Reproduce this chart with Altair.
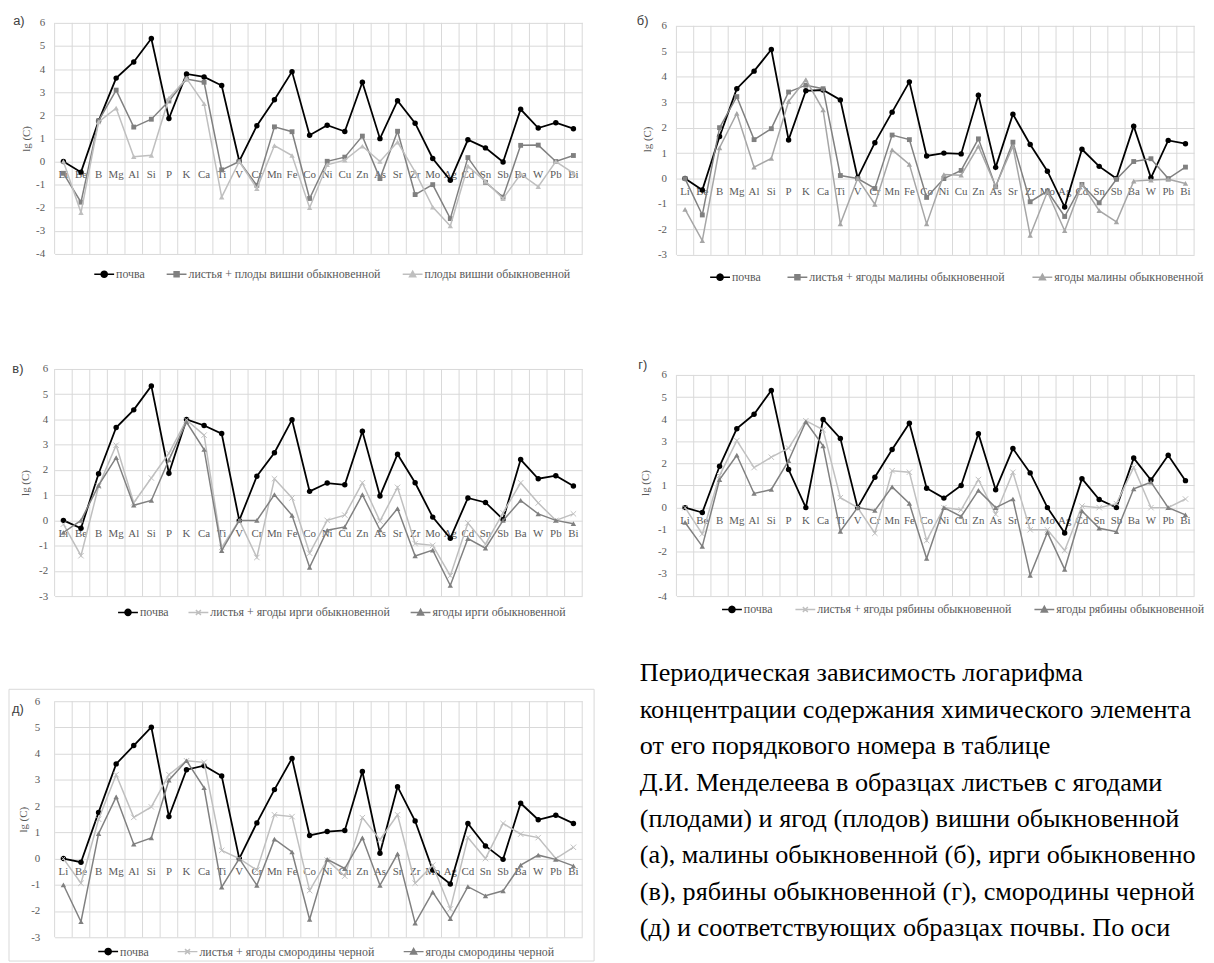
import math
import altair as alt
import pandas as pd

ELEMENTS = ["Li", "Be", "B", "Mg", "Al", "Si", "P", "K", "Ca", "Ti", "V", "Cr", "Mn", "Fe", "Co",
            "Ni", "Cu", "Zn", "As", "Sr", "Zr", "Mo", "Ag", "Cd", "Sn", "Sb", "Ba", "W", "Pb", "Bi"]

SOIL = "почва"

# а) вишня обыкновенная
A_NAMES = [SOIL, "листья + плоды вишни обыкновенной", "плоды вишни обыкновенной"]
A_SOIL = [0.00, -0.46, 1.75, 3.61, 4.31, 5.32, 1.86, 3.79, 3.66, 3.29, 0.02, 1.55, 2.67, 3.89, 1.14,
          1.57, 1.30, 3.43, 0.99, 2.63, 1.66, 0.13, -0.81, 0.94, 0.59, -0.02, 2.26, 1.45, 1.68, 1.42]
A_LEAVES = [-0.51, -1.76, 1.76, 3.09, 1.49, 1.83, 2.62, 3.57, 3.43, -0.36, 0.00, -1.03, 1.50, 1.29, -1.60,
            0.01, 0.19, 1.10, -0.74, 1.31, -1.43, -1.00, -2.47, 0.17, -0.90, -1.54, 0.70, 0.71, 0.00, 0.26]
A_FRUIT = [0.00, -2.21, 1.71, 2.31, 0.21, 0.27, 2.74, 3.60, 2.50, -1.54, 0.00, -1.17, 0.69, 0.26, -2.00,
           -0.14, 0.06, 0.66, 0.00, 0.84, -0.45, -1.97, -2.79, -0.20, -0.86, -1.61, -0.54, -1.09, 0.00, -0.50]

# б) малина обыкновенная
B_NAMES = [SOIL, "листья + ягоды малины обыкновенной", "ягоды малины обыкновенной"]
B_SOIL = [0.00, -0.45, 1.65, 3.53, 4.22, 5.07, 1.52, 3.45, 3.48, 3.09, 0.03, 1.41, 2.61, 3.80, 0.89,
          1.00, 0.97, 3.27, 0.44, 2.53, 1.34, 0.29, -1.12, 1.15, 0.48, 0.00, 2.06, 0.03, 1.50, 1.37]
B_LEAVES = [0.00, -1.43, 2.00, 3.22, 1.53, 1.96, 3.40, 3.67, 3.53, 0.12, 0.00, -0.39, 1.71, 1.53, -0.74,
            0.00, 0.32, 1.56, -0.32, 1.43, -0.91, -0.49, -1.49, -0.23, -0.95, -0.03, 0.67, 0.78, 0.00, 0.45]
B_BERRY = [-1.21, -2.44, 1.21, 2.56, 0.45, 0.79, 3.03, 3.89, 2.70, -1.78, 0.00, -1.01, 1.13, 0.56, -1.78,
           0.16, 0.13, 1.27, -0.30, 1.27, -2.23, -0.52, -2.05, -0.23, -1.26, -1.70, -0.10, -0.06, -0.03, -0.19]

# в) ирга обыкновенная
V_NAMES = [SOIL, "листья + ягоды ирги обыкновенной", "ягоды ирги обыкновенной"]
V_SOIL = [0.00, -0.31, 1.85, 3.68, 4.38, 5.33, 1.87, 4.00, 3.76, 3.44, 0.00, 1.75, 2.68, 3.99, 1.15,
          1.48, 1.41, 3.53, 0.97, 2.62, 1.49, 0.13, -0.71, 0.89, 0.71, 0.04, 2.41, 1.65, 1.77, 1.36]
V_LEAVES = [-0.15, -1.40, 1.35, 2.98, 0.70, 1.68, 2.66, 3.98, 3.38, -1.07, 0.00, -1.47, 1.65, 0.89, -1.30,
            0.00, 0.21, 1.49, -0.03, 1.31, -0.92, -0.99, -2.19, -0.10, -0.94, 0.30, 1.49, 0.69, 0.00, 0.26]
V_BERRY = [-0.48, 0.00, 1.39, 2.49, 0.60, 0.79, 2.40, 3.90, 2.81, -1.20, 0.00, 0.00, 1.02, 0.20, -1.86,
           -0.39, -0.26, 1.02, -0.38, 0.47, -1.41, -1.18, -2.58, -0.72, -1.10, 0.00, 0.79, 0.26, 0.00, -0.13]

# г) рябина обыкновенная
G_NAMES = [SOIL, "листья + ягоды рябины обыкновенной", "ягоды рябины обыкновенной"]
G_SOIL = [0.00, -0.22, 1.87, 3.57, 4.22, 5.30, 1.72, 0.00, 3.99, 3.13, 0.00, 1.37, 2.63, 3.82, 0.88,
          0.43, 1.00, 3.34, 0.81, 2.67, 1.57, 0.00, -1.15, 1.31, 0.37, 0.00, 2.24, 1.25, 2.37, 1.22]
G_LEAVES = [0.00, -1.19, 1.45, 3.03, 1.81, 2.28, 2.69, 3.93, 3.52, 0.45, 0.00, -1.16, 1.67, 1.60, -1.49,
            0.00, -0.10, 1.27, -0.30, 1.60, -1.00, -1.00, -1.94, 0.07, 0.00, 0.18, 1.82, 0.00, 0.00, 0.39]
G_BERRY = [-0.67, -1.75, 1.27, 2.37, 0.64, 0.82, 2.12, 3.88, 2.79, -1.07, 0.00, -0.13, 0.94, 0.19, -2.30,
           0.00, -0.40, 0.78, 0.00, 0.39, -3.06, -1.12, -2.79, -0.15, -0.93, -1.09, 0.85, 1.15, 0.00, -0.33]

# д) смородина черная
D_NAMES = [SOIL, "листья + ягоды смородины черной", "ягоды смородины черной"]
D_SOIL = [0.00, -0.14, 1.76, 3.61, 4.31, 5.01, 1.60, 3.39, 3.54, 3.15, 0.00, 1.36, 2.63, 3.82, 0.88,
          1.03, 1.07, 3.32, 0.20, 2.74, 1.43, -0.44, -0.97, 1.34, 0.48, -0.03, 2.11, 1.48, 1.65, 1.34]
D_LEAVES = [0.00, -0.94, 1.50, 3.20, 1.57, 1.97, 3.20, 3.73, 3.67, 0.31, 0.00, -0.44, 1.67, 1.60, -1.22,
            -0.06, -0.67, 1.56, 0.72, 1.67, -0.94, -0.25, -1.92, 0.80, 0.00, 1.34, 0.93, 0.80, 0.00, 0.43]
D_BERRY = [-1.00, -2.41, 0.95, 2.35, 0.55, 0.79, 2.99, 3.73, 2.70, -1.09, 0.00, -1.02, 0.74, 0.25, -2.32,
           -0.03, -0.38, 0.79, -1.02, 0.18, -2.46, -1.28, -2.29, -1.07, -1.42, -1.23, -0.25, 0.13, -0.03, -0.28]

TEXT_LINES = [
    "Периодическая зависимость логарифма",
    "концентрации содержания химического элемента",
    "от его порядкового номера в таблице",
    "Д.И. Менделеева в образцах листьев с ягодами",
    "(плодами) и ягод (плодов) вишни обыкновенной",
    "(а), малины обыкновенной (б), ирги обыкновенной",
    "(в), рябины обыкновенной (г), смородины черной",
    "(д) и соответствующих образцах почвы. По оси",
]

SERIF = "Liberation Serif, Times New Roman, serif"
SANS = "Liberation Sans, Arial, sans-serif"
GRID = "#d9d9d9"
AXIS_TXT = "#595959"


def poly(r, n):
    pts = [(r * math.cos(2 * math.pi * k / n), r * math.sin(2 * math.pi * k / n)) for k in range(n)]
    return "M" + "L".join(f"{x:.3f},{y:.3f}" for x, y in pts) + "Z"


LEG_LINE = "M-2,0L2,0"
LEG_SHAPES = {
    "circle": LEG_LINE + poly(0.62, 16),
    "square": LEG_LINE + "M-0.5,-0.5L0.5,-0.5L0.5,0.5L-0.5,0.5Z",
    "triangle": LEG_LINE + "M0,-0.62L0.62,0.5L-0.62,0.5Z",
    "x": LEG_LINE + "M-0.5,-0.5L0.5,0.5M-0.5,0.5L0.5,-0.5",
}
MARKS = {
    "circle": dict(shape="circle", filled=True, size=30),
    "square": dict(shape="square", filled=True, size=24),
    "triangle": dict(shape="triangle-up", filled=True, size=30),
    "x": dict(shape="M-1,-1L1,1M-1,1L1,-1", filled=False, size=30, strokeWidth=1),
}


def panel(tag, names, series, colors, markers, ymin, ymax, w, h, tag_xy, leg_xy, col_pad,
          ylab_pad, ytitle_x, box=False, anchor=False):
    xoff = -(h * (0 - ymin) / (ymax - ymin))
    xscale = alt.Scale(type="band", domain=ELEMENTS, paddingInner=0, paddingOuter=0)
    xaxis = alt.Axis(title=None, labelAngle=0, labelFont=SERIF, labelFontSize=11,
                     labelColor=AXIS_TXT, labelPadding=7, ticks=False, tickSize=0,
                     domain=False, grid=False, offset=xoff, labelOverlap=False)
    yscale = alt.Scale(domain=[ymin, ymax], nice=False, zero=False)
    yaxis = alt.Axis(values=list(range(ymin, 7)), labelExpr="'' + datum.value",
                     title="lg (C)", titleFont=SERIF, titleFontSize=11,
                     titleFontWeight="normal", titleColor=AXIS_TXT, titleX=ytitle_x,
                     titleBaseline="middle", labelFont=SERIF, labelFontSize=11,
                     labelColor=AXIS_TXT, labelPadding=ylab_pad, ticks=False,
                     domain=False, grid=True, gridColor=GRID, gridWidth=1, labelOverlap=False)
    X = alt.X("el:N", sort=ELEMENTS, scale=xscale, axis=xaxis)
    Y = alt.Y("v:Q", scale=yscale, axis=yaxis)
    y_top = alt.YDatum(6, type="quantitative", scale=yscale, axis=yaxis)
    y_bot = alt.Y2Datum(ymin)
    layers = []
    if anchor:
        layers.append(
            alt.Chart(alt.Data(values=[{}])).mark_rule(opacity=0, strokeWidth=1)
            .encode(x=alt.value(0), x2=alt.value(10), y=alt.value(-10), y2=alt.value(-10))
        )
    if box:
        layers.append(
            alt.Chart(alt.Data(values=[{}])).mark_rect(fill="transparent", stroke=GRID, strokeWidth=1)
            .encode(x=alt.value(-46), x2=alt.value(544), y=alt.value(-12), y2=alt.value(262))
        )
    # vertical category gridlines at band edges, spanning the value range only
    layers.append(
        alt.Chart(pd.DataFrame({"el": ELEMENTS})).mark_rule(color=GRID, strokeWidth=1)
        .encode(x=alt.X("el:N", sort=ELEMENTS, scale=xscale, axis=xaxis, bandPosition=0),
                y=y_top, y2=y_bot)
    )
    layers.append(
        alt.Chart(alt.Data(values=[{}])).mark_rule(color=GRID, strokeWidth=1)
        .encode(x=alt.value(w), y=y_top, y2=y_bot)
    )
    frames = []
    for name, vals, color, mk in zip(names, series, colors, markers):
        df = pd.DataFrame({"el": ELEMENTS, "v": vals, "series": name})
        frames.append(df)
        base = alt.Chart(df).encode(x=X, y=Y)
        lw = 1.8 if color == "#000000" else 1.5
        layers.append(base.mark_line(color=color, strokeWidth=lw))
        layers.append(base.mark_point(color=color, opacity=1, **MARKS[mk]))
    all_df = pd.concat(frames, ignore_index=True)
    leg = alt.Legend(title=None, orient="none", legendX=leg_xy[0], legendY=leg_xy[1],
                     direction="horizontal", columns=3, labelFont=SERIF, labelFontSize=12,
                     labelColor=AXIS_TXT, labelLimit=400, symbolSize=100, symbolStrokeWidth=1.5,
                     labelOffset=6, columnPadding=col_pad, padding=0, symbolOpacity=1)
    layers.append(
        alt.Chart(all_df).mark_point(opacity=0, filled=True).encode(
            x=X, y=Y,
            color=alt.Color("series:N", scale=alt.Scale(domain=names, range=colors), legend=leg),
            stroke=alt.Stroke("series:N", scale=alt.Scale(domain=names, range=colors), legend=leg),
            shape=alt.Shape("series:N",
                            scale=alt.Scale(domain=names, range=[LEG_SHAPES[m] for m in markers]),
                            legend=leg),
        )
    )
    layers.append(
        alt.Chart(alt.Data(values=[{}])).mark_text(text=tag, font=SANS, fontSize=13, color="#404040",
                                                   align="center", baseline="middle")
        .encode(x=alt.value(tag_xy[0]), y=alt.value(tag_xy[1]))
    )
    return alt.layer(*layers).properties(width=w, height=h)


def spacer(h):
    return alt.Chart(alt.Data(values=[{}])).mark_point(opacity=0).properties(width=1, height=h)


BLACK = "#000000"
# panel б: 231 px for 9 units, cell 234 px tall (top edge 3 px lower than а)
B_TOP = 6 + 3 / (231 / 9)
# panel г: 223 px for 10 units, cell 229 px tall (top edge 6 px lower than в)
G_TOP = 6 + 6 / (223 / 10)

pa = panel("а)", A_NAMES, [A_SOIL, A_LEAVES, A_FRUIT], [BLACK, "#808080", "#bfbfbf"],
           ["circle", "square", "triangle"], -4, 6, 532, 233, (-36, -2), (44, 247), 19, 10, -28,
           anchor=True)
pb = panel("б)", B_NAMES, [B_SOIL, B_LEAVES, B_BERRY], [BLACK, "#808080", "#a6a6a6"],
           ["circle", "square", "triangle"], -3, B_TOP, 522, 234, (-34, -2), (38, 250), 24, 10, -29)
pv = panel("в)", V_NAMES, [V_SOIL, V_LEAVES, V_BERRY], [BLACK, "#bfbfbf", "#808080"],
           ["circle", "x", "triangle"], -3, 6, 532, 229, (-37, 0), (68, 239), 17, 7, -29)
pg = panel("г)", G_NAMES, [G_SOIL, G_LEAVES, G_BERRY], [BLACK, "#c0c0c0", "#808080"],
           ["circle", "x", "triangle"], -4, G_TOP, 522, 229, (-34, -4), (50, 236), 20, 10, -31)
pd_ = panel("д)", D_NAMES, [D_SOIL, D_LEAVES, D_BERRY], [BLACK, "#bfbfbf", "#808080"],
            ["circle", "x", "triangle"], -3, 6, 532, 238, (-37, 8), (48, 246), 26, 15, -31, box=True)

text_cell = alt.Chart(alt.Data(values=[{}])).mark_text(
    text=TEXT_LINES, font=SERIF, fontSize=26.4, lineHeight=36.7, align="left",
    baseline="alphabetic", color="#000000", limit=561, ellipsis="\u200b"
).encode(x=alt.value(-37), y=alt.value(-20)).properties(width=522, height=238)

cells = [pa, pb,
         spacer(115), spacer(115),
         pv, pg,
         spacer(106), spacer(106),
         pd_, text_cell]

chart = alt.concat(
    *cells, columns=2, spacing={"row": 0, "column": 95}, bounds="flush"
).resolve_scale(
    color="independent", stroke="independent", shape="independent"
).resolve_legend(
    color="independent", stroke="independent", shape="independent"
).properties(
    padding={"left": 0, "top": 0, "right": 0, "bottom": 0}, background="white"
).configure_view(stroke="transparent")

chart.save("out.html", embed_options={"renderer": "svg", "actions": False})
